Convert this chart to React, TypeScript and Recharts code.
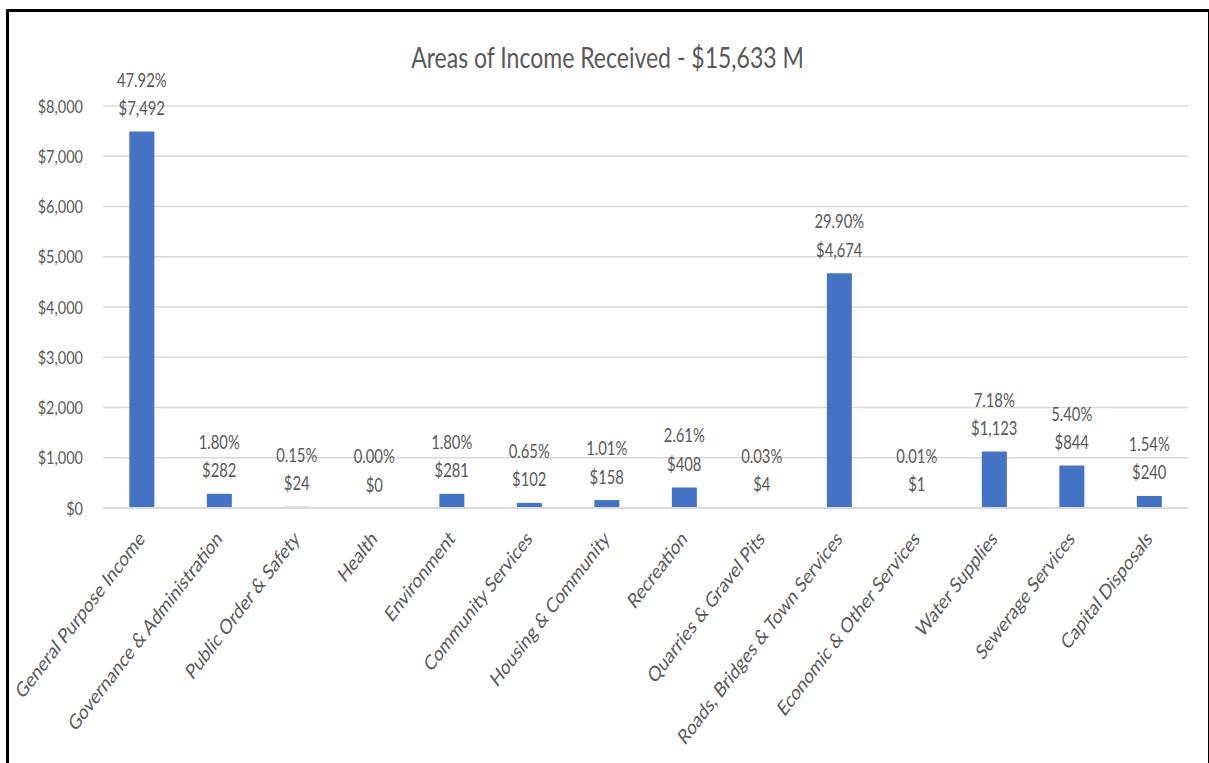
import React from "react";
import { ComposedChart, Bar, Line, XAxis, YAxis, CartesianGrid, LabelList } from "recharts";

const categories = [
  "General Purpose Income",
  "Governance & Administration",
  "Public Order & Safety",
  "Health",
  "Environment",
  "Community Services",
  "Housing & Community",
  "Recreation",
  "Quarries & Gravel Pits",
  "Roads, Bridges & Town Services",
  "Economic & Other Services",
  "Water Supplies",
  "Sewerage Services",
  "Capital Disposals",
];

const amounts = [7492, 282, 24, 0, 281, 102, 158, 408, 4, 4674, 1, 1123, 844, 240];

const shares = [
  "47.92%", "1.80%", "0.15%", "0.00%", "1.80%", "0.65%", "1.01%",
  "2.61%", "0.03%", "29.90%", "0.01%", "7.18%", "5.40%", "1.54%",
];

const yTicks = [0, 1000, 2000, 3000, 4000, 5000, 6000, 7000, 8000];

const data = categories.map((name, i) => ({
  name,
  amount: amounts[i],
  share: shares[i],
}));

const FONT = "Lato, 'Open Sans', sans-serif";
const GREY = "#595959";
const STRETCH = 1.25; // the source image is taller than it is wide

const money = (v: number) => "$" + v.toLocaleString("en-US");

const CategoryTick = ({ x, y, payload }: any) => (
  <g transform={`translate(${x + 4},${y + 24}) scale(1,1.3) rotate(-45)`}>
    <text textAnchor="end" fontSize={16.2} fill={GREY} fontFamily={FONT}>
      {payload.value}
    </text>
  </g>
);

const ValueTick = ({ x, y, payload }: any) => (
  <g transform={`translate(${x},${y + 6.5}) scale(1,${STRETCH})`}>
    <text textAnchor="end" fontSize={14.5} fill={GREY} fontFamily={FONT}>
      {money(payload.value)}
    </text>
  </g>
);

// labels ride on an invisible line so the zero-height bar still gets one
const BarLabel = ({ x, y, index }: any) => (
  <g fontFamily={FONT} fontSize={14.8} fill={GREY} textAnchor="middle">
    <g transform={`translate(${x},${y - 45}) scale(1,${STRETCH})`}>
      <text>{shares[index]}</text>
    </g>
    <g transform={`translate(${x},${y - 16.5}) scale(1,${STRETCH})`}>
      <text>{money(amounts[index])}</text>
    </g>
  </g>
);

export default function App() {
  return (
    <div style={{ position: "absolute", left: 0, top: 0, width: 1209, height: 763, background: "#fff", overflow: "hidden" }}>
      <div
        style={{
          position: "absolute",
          left: 6,
          top: 9,
          width: 1199,
          height: 780,
          borderLeft: "3px solid #000",
          borderTop: "3px solid #000",
          borderRight: "2px solid #000",
        }}
      />
      <div
        style={{
          position: "absolute",
          left: 0,
          top: 42,
          width: 1215,
          textAlign: "center",
          fontFamily: FONT,
          fontSize: 23,
          lineHeight: "30px",
          color: GREY,
          transform: `scaleY(${STRETCH})`,
        }}
      >
        Areas of Income Received - $15,633 M
      </div>
      <div style={{ position: "absolute", left: 0, top: 0 }}>
        <ComposedChart
          width={1209}
          height={763}
          data={data}
          margin={{ top: 106, right: 21, left: 13, bottom: 55 }}
          barCategoryGap="34%"
        >
          <CartesianGrid vertical={false} stroke="#d9d9d9" strokeWidth={1.5} />
          <XAxis
            dataKey="name"
            interval={0}
            height={200}
            tick={<CategoryTick />}
            tickLine={false}
            axisLine={{ stroke: "#d9d9d9", strokeWidth: 2 }}
          />
          <YAxis
            width={90}
            domain={[0, 8000]}
            ticks={yTicks}
            tickLine={false}
            axisLine={false}
            tickMargin={14}
            tick={<ValueTick />}
          />
          <Bar dataKey="amount" fill="#4472C4" isAnimationActive={false} />
          <Line
            dataKey="amount"
            stroke="none"
            dot={false}
            activeDot={false}
            isAnimationActive={false}
          >
            <LabelList dataKey="amount" content={<BarLabel />} />
          </Line>
        </ComposedChart>
      </div>
    </div>
  );
}
